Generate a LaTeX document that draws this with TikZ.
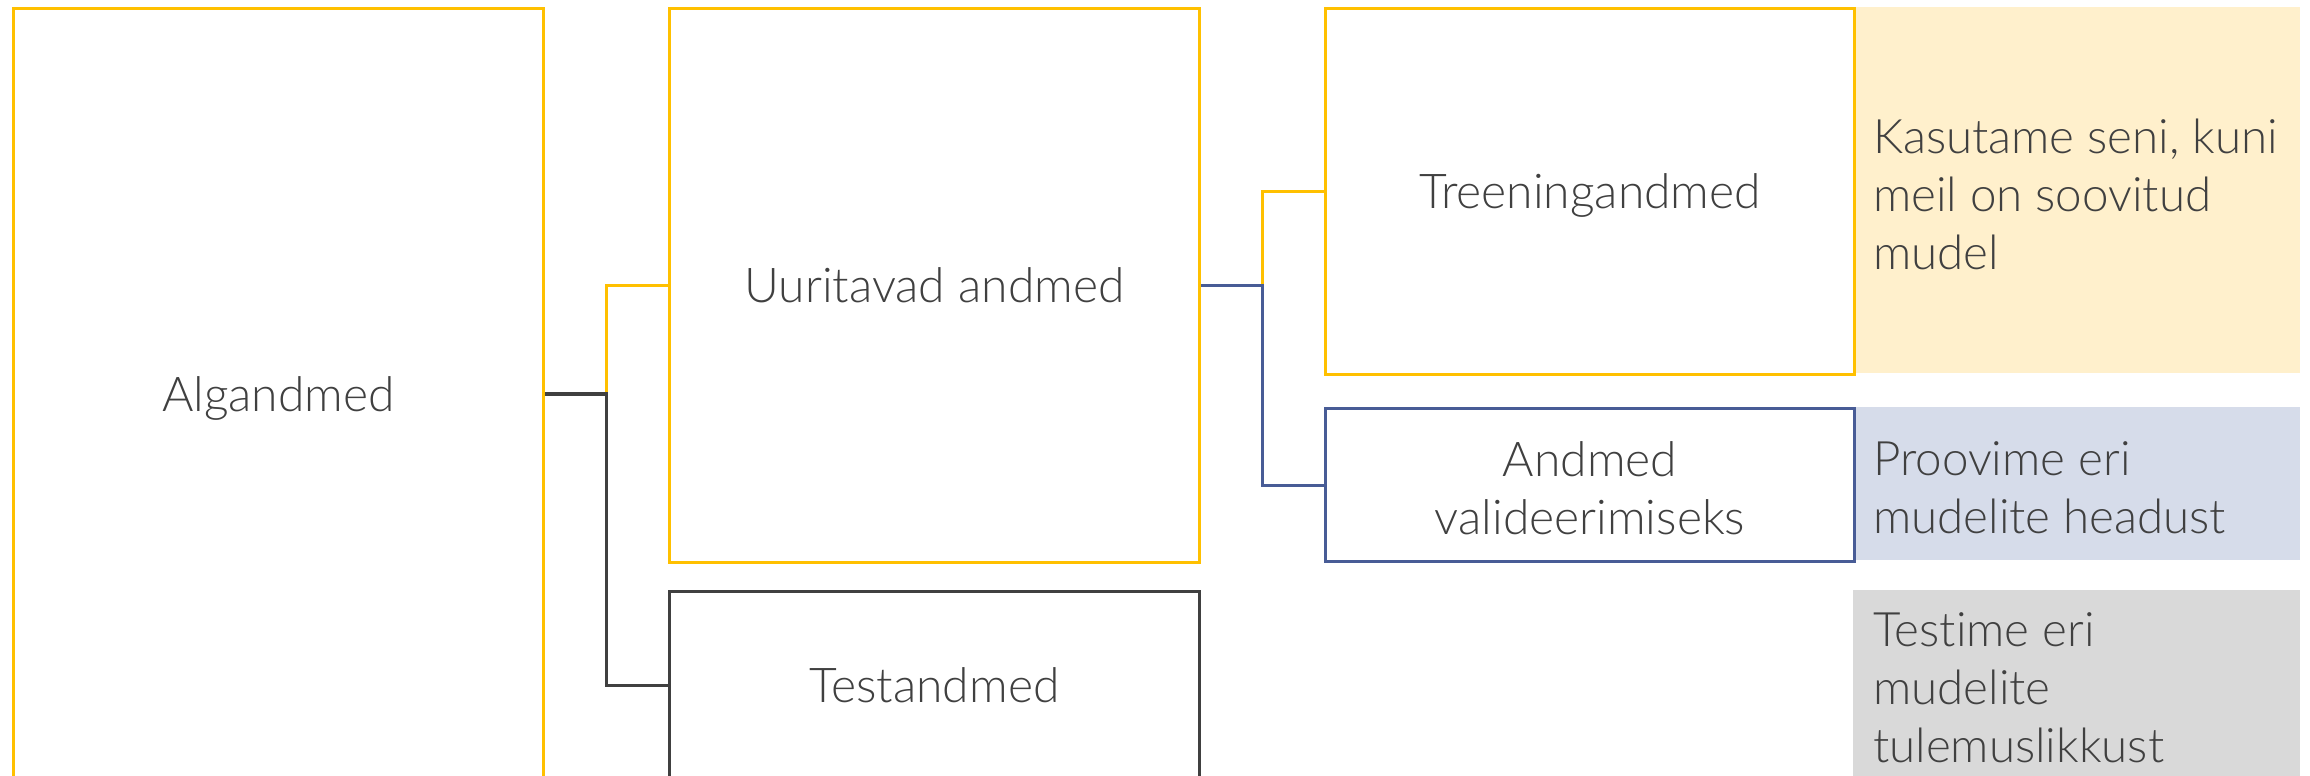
\documentclass[tikz,border=0pt]{standalone}
\usepackage{fontspec}
\setmainfont{Lato Light}[Ligatures=NoCommon]
\usetikzlibrary{calc}
\definecolor{ygold}{HTML}{FFC000}
\definecolor{bblue}{RGB}{72,92,150}
\definecolor{dgray}{HTML}{404040}
\definecolor{txt}{HTML}{404040}
\definecolor{yfillc}{HTML}{FFF0CC}
\definecolor{bfillc}{HTML}{D6DCEA}
\definecolor{gfillc}{HTML}{D9D9D9}
\begin{document}
\begin{tikzpicture}[x=1pt,y=-1pt,
  box/.style={draw, line width=3pt, fill=white, text=txt, align=center,
    inner sep=0pt, anchor=north west, font=\fontsize{48}{58}\selectfont},
  oneline/.style={text height=34pt, text depth=0pt},
  sidefill/.style={draw=none, inner sep=0pt, anchor=north west, minimum width=447pt},
  sidetext/.style={text=txt, align=left, inner sep=0pt, anchor=west,
    font=\fontsize{47.5}{58}\selectfont},
  yline/.style={draw=ygold, line width=3pt},
  bline/.style={draw=bblue, line width=3pt},
  dline/.style={draw=dgray, line width=3.5pt}]
\useasboundingbox (0,0) rectangle (2310,776);
\clip (0,0) rectangle (2310,776);
% side fills
\node[sidefill, fill=yfillc, minimum height=366pt] (kfill) at (1853,7) {};
\node[sidefill, fill=bfillc, minimum height=153pt] (pfill) at (1853,407) {};
\node[sidefill, fill=gfillc, minimum height=188pt] (tfill) at (1853,590) {};
\node[sidetext] (ktext) at ([xshift=20pt,yshift=-4pt]kfill.west) {Kasutame seni, kuni\\meil on soovitud\\mudel};
\node[sidetext] (ptext) at ([xshift=20pt,yshift=-4pt]pfill.west) {Proovime eri\\mudelite headust};
\node[sidetext] (ttext) at ([xshift=20pt,yshift=-4pt]tfill.west) {Testime eri\\mudelite\\tulemuslikkust};
% boxes
\node[box, oneline, draw=ygold, minimum width=530pt, minimum height=771pt] (alg) at (12,7) {Algandmed};
\node[box, oneline, draw=ygold, minimum width=530pt, minimum height=554pt] (uur) at (668,7) {Uuritavad andmed};
\node[box, oneline, draw=dgray, minimum width=530pt, minimum height=188pt] (test) at (668,590) {Testandmed};
\node[box, oneline, draw=ygold, minimum width=529pt, minimum height=366pt] (tree) at (1324,7) {Treeningandmed};
\node[box, draw=bblue, minimum width=529pt, minimum height=153pt] (val) at (1324,407) {};
\node[text=txt, align=center, inner sep=0pt, font=\fontsize{48}{58}\selectfont] (valtext) at ([yshift=-3pt]val.center) {Andmed\\valideerimiseks};
% connectors
\coordinate (j1) at ($(alg.east)!0.5!(uur.west |- alg.east)$);
\coordinate (j2) at ($(uur.east)!0.5!(tree.west |- uur.east)$);
\draw[yline] (j1) |- (uur.west);
\draw[dline] (alg.east) -- (j1) |- (test.west);
\draw[yline] (j2) |- (tree.west);
\draw[bline] (uur.east) -- (j2) |- (val.west);
\end{tikzpicture}
\end{document}
